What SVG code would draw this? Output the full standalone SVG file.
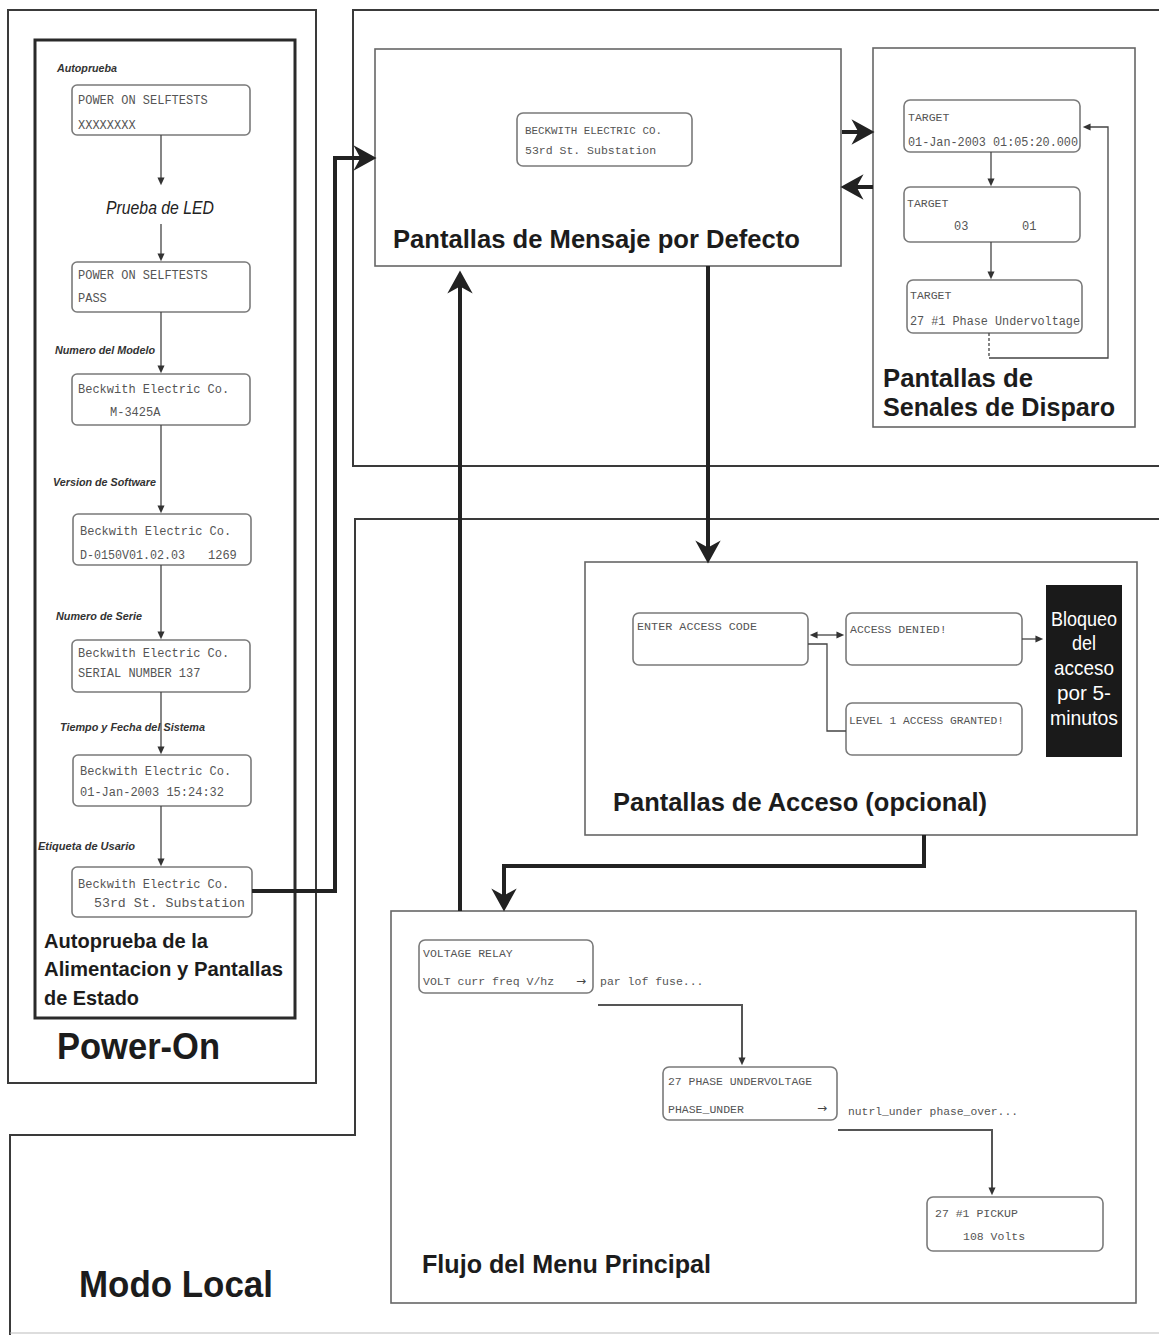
<svg xmlns="http://www.w3.org/2000/svg" width="1159" height="1335" viewBox="0 0 1159 1335">
<style>
.frame{fill:none;stroke:#3a3a3a;stroke-width:2}
.inner{fill:none;stroke:#2a2a2a;stroke-width:3}
.panel{fill:none;stroke:#666;stroke-width:1.6}
.lcd{fill:#fff;stroke:#7a7a7a;stroke-width:1.6}
.mono{font-family:"Liberation Mono","DejaVu Sans Mono",monospace;font-size:12px;fill:#555}
.sm{font-size:11.5px}
.h{font-family:"Liberation Sans",Arial,sans-serif;font-weight:bold;fill:#1c1c1c}
.lab{font-family:"Liberation Sans",Arial,sans-serif;font-weight:bold;font-style:italic;font-size:10px;fill:#333}
.thick{fill:none;stroke:#222;stroke-width:4}
.thin{fill:none;stroke:#444;stroke-width:1.3}
.mid{fill:none;stroke:#555;stroke-width:2}
.wt{font-family:"Liberation Sans",Arial,sans-serif;font-size:21px;fill:#fff}
</style>
<defs>
<marker id="big" markerUnits="userSpaceOnUse" markerWidth="30" markerHeight="30" viewBox="-22 -13 24 26" refX="-10" refY="0" orient="auto">
<path d="M0,0 L-20,-11 L-14,0 L-20,11 Z" fill="#222"/>
</marker>
<marker id="sm" markerUnits="userSpaceOnUse" markerWidth="10" markerHeight="10" viewBox="-8 -4 9 8" refX="-2" refY="0" orient="auto-start-reverse">
<path d="M0,0 L-7,-3.2 L-7,3.2 Z" fill="#333"/>
</marker>
</defs>
<rect width="1159" height="1335" fill="#fff"/>

<g id="frames">
<rect class="frame" x="8" y="10" width="308" height="1073"/>
<polyline class="frame" points="1159,10 353,10 353,466 1159,466"/>
<polyline class="frame" points="1159,519 355,519 355,1135 10,1135 10,1335"/>
<line x1="10" y1="1333" x2="1159" y2="1333" stroke="#bbb" stroke-width="1"/>
</g>

<g id="power-on">
<rect class="inner" x="35" y="40" width="260" height="978"/>
<text class="h" x="44" y="948" font-size="21" textLength="164" lengthAdjust="spacingAndGlyphs">Autoprueba de la</text>
<text class="h" x="44" y="976" font-size="21" textLength="239" lengthAdjust="spacingAndGlyphs">Alimentacion y Pantallas</text>
<text class="h" x="44" y="1005" font-size="21" textLength="95" lengthAdjust="spacingAndGlyphs">de Estado</text>
<text class="h" x="57" y="1059" font-size="36" textLength="163" lengthAdjust="spacingAndGlyphs">Power-On</text>
</g>

<g id="n-selftest1">
<rect class="lcd" x="72" y="85" width="178" height="50" rx="5"/>
<text class="lab" x="57" y="72" textLength="60" lengthAdjust="spacingAndGlyphs">Autoprueba</text>
<text class="mono" x="78" y="104">POWER ON SELFTESTS</text>
<text class="mono" x="78" y="129">XXXXXXXX</text>
</g>
<g id="n-led">
<text x="160" y="214" text-anchor="middle" font-family="Liberation Sans, Arial, sans-serif" font-style="italic" font-size="18" fill="#222" textLength="108" lengthAdjust="spacingAndGlyphs">Prueba de LED</text>
</g>
<g id="n-selftest2">
<rect class="lcd" x="72" y="262" width="178" height="50" rx="5"/>
<text class="mono" x="78" y="279">POWER ON SELFTESTS</text>
<text class="mono" x="78" y="302">PASS</text>
</g>
<g id="n-model">
<text class="lab" x="55" y="354" textLength="100" lengthAdjust="spacingAndGlyphs">Numero del Modelo</text>
<rect class="lcd" x="72" y="374" width="178" height="51" rx="5"/>
<text class="mono" x="78" y="393">Beckwith Electric Co.</text>
<text class="mono" x="110" y="416">M-3425A</text>
</g>
<g id="n-software">
<text class="lab" x="53" y="486" textLength="103" lengthAdjust="spacingAndGlyphs">Version de Software</text>
<rect class="lcd" x="73" y="514" width="178" height="51" rx="5"/>
<text class="mono" x="80" y="535">Beckwith Electric Co.</text>
<text class="mono" x="80" y="559" textLength="105" lengthAdjust="spacingAndGlyphs">D-0150V01.02.03</text>
<text class="mono" x="208" y="559">1269</text>
</g>
<g id="n-serial">
<text class="lab" x="56" y="620" textLength="86" lengthAdjust="spacingAndGlyphs">Numero de Serie</text>
<rect class="lcd" x="72" y="640" width="178" height="52" rx="5"/>
<text class="mono" x="78" y="657">Beckwith Electric Co.</text>
<text class="mono" x="78" y="677">SERIAL NUMBER 137</text>
</g>
<g id="n-time">
<text class="lab" x="60" y="731" textLength="145" lengthAdjust="spacingAndGlyphs">Tiempo y Fecha del Sistema</text>
<rect class="lcd" x="73" y="755" width="178" height="51" rx="5"/>
<text class="mono" x="80" y="775">Beckwith Electric Co.</text>
<text class="mono" x="80" y="796">01-Jan-2003  15:24:32</text>
</g>
<g id="n-user">
<text class="lab" x="38" y="850" textLength="97" lengthAdjust="spacingAndGlyphs">Etiqueta de Usario</text>
<rect class="lcd" x="72" y="867" width="180" height="50" rx="5"/>
<text class="mono" x="78" y="888">Beckwith Electric Co.</text>
<text class="mono" x="94" y="907" font-size="13" textLength="151" lengthAdjust="spacingAndGlyphs">53rd St. Substation</text>
</g>

<g id="default-msg">
<rect class="panel" x="375" y="49" width="466" height="217"/>
<rect class="lcd" x="517" y="113" width="175" height="53" rx="6"/>
<text class="mono sm" x="525" y="134" textLength="137" lengthAdjust="spacingAndGlyphs">BECKWITH ELECTRIC CO.</text>
<text class="mono sm" x="525" y="154">53rd St. Substation</text>
<text class="h" x="393" y="248" font-size="25" textLength="407" lengthAdjust="spacingAndGlyphs">Pantallas de Mensaje por Defecto</text>
</g>

<g id="target">
<rect class="panel" x="873" y="48" width="262" height="379"/>
<rect class="lcd" x="904" y="100" width="176" height="52" rx="6"/>
<text class="mono sm" x="908" y="121">TARGET</text>
<text class="mono" x="908" y="146" textLength="170" lengthAdjust="spacingAndGlyphs">01-Jan-2003  01:05:20.000</text>
<rect class="lcd" x="904" y="187" width="176" height="55" rx="6"/>
<text class="mono sm" x="907" y="207">TARGET</text>
<text class="mono" x="954" y="230">03</text>
<text class="mono" x="1022" y="230">01</text>
<rect class="lcd" x="907" y="280" width="175" height="53" rx="6"/>
<text class="mono sm" x="910" y="299">TARGET</text>
<text class="mono" x="910" y="325" textLength="170" lengthAdjust="spacingAndGlyphs">27 #1 Phase Undervoltage</text>
<text class="h" x="883" y="387" font-size="25" textLength="150" lengthAdjust="spacingAndGlyphs">Pantallas de</text>
<text class="h" x="883" y="416" font-size="25" textLength="232" lengthAdjust="spacingAndGlyphs">Senales de Disparo</text>
</g>

<g id="access">
<rect class="panel" x="585" y="562" width="552" height="273"/>
<rect class="lcd" x="633" y="613" width="175" height="52" rx="6"/>
<text class="mono sm" x="637" y="630" textLength="120" lengthAdjust="spacingAndGlyphs">ENTER ACCESS CODE</text>
<rect class="lcd" x="846" y="613" width="176" height="52" rx="6"/>
<text class="mono sm" x="850" y="633">ACCESS DENIED!</text>
<rect class="lcd" x="846" y="703" width="176" height="52" rx="6"/>
<text class="mono sm" x="849" y="724" textLength="155" lengthAdjust="spacingAndGlyphs">LEVEL 1 ACCESS GRANTED!</text>
<rect x="1046" y="585" width="76" height="172" fill="#1a1a1a"/>
<text class="wt" x="1084" y="626" text-anchor="middle" textLength="66" lengthAdjust="spacingAndGlyphs">Bloqueo</text>
<text class="wt" x="1084" y="650" text-anchor="middle" textLength="24" lengthAdjust="spacingAndGlyphs">del</text>
<text class="wt" x="1084" y="675" text-anchor="middle" textLength="60" lengthAdjust="spacingAndGlyphs">acceso</text>
<text class="wt" x="1084" y="700" text-anchor="middle" textLength="54" lengthAdjust="spacingAndGlyphs">por 5-</text>
<text class="wt" x="1084" y="725" text-anchor="middle" textLength="68" lengthAdjust="spacingAndGlyphs">minutos</text>
<text class="h" x="613" y="811" font-size="25" textLength="374" lengthAdjust="spacingAndGlyphs">Pantallas de Acceso (opcional)</text>
</g>

<g id="menu">
<rect class="panel" x="391" y="911" width="745" height="392"/>
<rect class="lcd" x="419" y="940" width="174" height="53" rx="6"/>
<text class="mono sm" x="423" y="957">VOLTAGE RELAY</text>
<text class="mono sm" x="423" y="985">VOLT curr freq V/hz</text>
<text x="576" y="985" font-family="DejaVu Sans, sans-serif" font-size="12" fill="#444">→</text>
<text class="mono sm" x="600" y="985">par lof fuse...</text>
<rect class="lcd" x="663" y="1067" width="174" height="53" rx="6"/>
<text class="mono sm" x="668" y="1085" textLength="144" lengthAdjust="spacingAndGlyphs">27 PHASE UNDERVOLTAGE</text>
<text class="mono sm" x="668" y="1113">PHASE_UNDER</text>
<text x="817" y="1112" font-family="DejaVu Sans, sans-serif" font-size="12" fill="#444">→</text>
<text class="mono sm" x="848" y="1115" textLength="170" lengthAdjust="spacingAndGlyphs">nutrl_under phase_over...</text>
<rect class="lcd" x="927" y="1197" width="176" height="54" rx="6"/>
<text class="mono sm" x="935" y="1217">27 #1 PICKUP</text>
<text class="mono sm" x="963" y="1240">108 Volts</text>
<text class="h" x="422" y="1273" font-size="25" textLength="289" lengthAdjust="spacingAndGlyphs">Flujo del Menu Principal</text>
</g>

<g id="modo-local">
<text class="h" x="79" y="1297" font-size="37" textLength="194" lengthAdjust="spacingAndGlyphs">Modo Local</text>
</g>

<g id="connectors">
<line class="thin" x1="161" y1="135" x2="161" y2="183" marker-end="url(#sm)"/>
<line class="thin" x1="161" y1="224" x2="161" y2="259" marker-end="url(#sm)"/>
<line class="thin" x1="161" y1="312" x2="161" y2="371" marker-end="url(#sm)"/>
<line class="thin" x1="161" y1="425" x2="161" y2="511" marker-end="url(#sm)"/>
<line class="thin" x1="161" y1="565" x2="161" y2="637" marker-end="url(#sm)"/>
<line class="thin" x1="161" y1="692" x2="161" y2="752" marker-end="url(#sm)"/>
<line class="thin" x1="161" y1="806" x2="161" y2="864" marker-end="url(#sm)"/>
<path class="thick" d="M252,891 H335 V158 H365" marker-end="url(#big)"/>
<line class="thick" x1="842" y1="132" x2="863" y2="132" marker-end="url(#big)"/>
<line class="thick" x1="873" y1="187" x2="852" y2="187" marker-end="url(#big)"/>
<line class="thin" x1="991" y1="152" x2="991" y2="184" marker-end="url(#sm)"/>
<line class="thin" x1="991" y1="242" x2="991" y2="277" marker-end="url(#sm)"/>
<path class="thin" d="M989,333 V358" stroke-dasharray="3,2"/>
<path class="thin" d="M989,358 H1108 V127 H1085" marker-end="url(#sm)"/>
<line class="thick" x1="708" y1="266" x2="708" y2="552" marker-end="url(#big)"/>
<line class="thick" x1="460" y1="911" x2="460" y2="282" marker-end="url(#big)"/>
<path class="thick" d="M924,835 V866 H504 V900" marker-end="url(#big)"/>
<line class="thin" x1="812" y1="635" x2="842" y2="635" marker-start="url(#sm)" marker-end="url(#sm)"/>
<path class="thin" d="M808,644 H827 V731 H846"/>
<line class="thin" x1="1022" y1="639" x2="1041" y2="639" marker-end="url(#sm)"/>
<path class="mid" d="M598,1005 H742 V1063" marker-end="url(#sm)"/>
<path class="mid" d="M838,1130 H992 V1193" marker-end="url(#sm)"/>
</g>
</svg>
